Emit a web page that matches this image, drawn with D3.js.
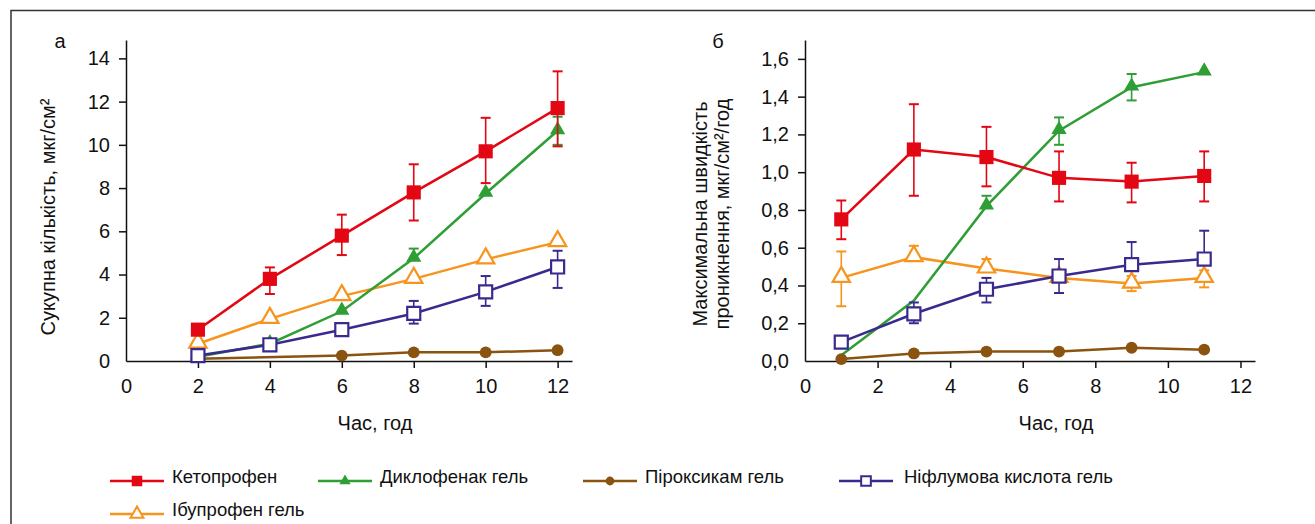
<!DOCTYPE html>
<html>
<head>
<meta charset="utf-8">
<script src="https://cdn.jsdelivr.net/npm/d3@7"></script>
<style>
    body { margin: 0; background: #fff; }
    svg { display: block; font-family: "Liberation Sans", Arial, sans-serif; }
    .axis path, .axis line { stroke: #111; stroke-width: 1.5; }
    .axis text { font-size: 20px; fill: #111; }
    .title { font-size: 20px; fill: #111; }
    .legend text { font-size: 18.5px; fill: #111; }
</style>
</head>
<body>
<svg id="chart" width="1315" height="524"></svg>
<script>
// --- data ---
const timesA = [2, 4, 6, 8, 10, 12]
const timesB = [1, 3, 5, 7, 9, 11]
const ticksX = [0, 2, 4, 6, 8, 10, 12]
const ticksYA = [0, 2, 4, 6, 8, 10, 12, 14]
const ticksYB = [0, 0.2, 0.4, 0.6, 0.8, 1.0, 1.2, 1.4, 1.6]

const seriesNames = ['Кетопрофен', 'Диклофенак гель', 'Піроксикам гель', 'Ніфлумова кислота гель', 'Ібупрофен гель']

// panel а: cumulative amount, mcg/cm2
const ketoA = [1.45, 3.8, 5.8, 7.8, 9.7, 11.7]
const ketoAHi = [null, 4.33, 6.77, 9.1, 11.25, 13.4]
const ketoALo = [null, 3.1, 4.9, 6.5, 8.23, 9.93]
const dicloA = [0.2, 0.8, 2.3, 4.75, 7.75, 10.65]
const dicloAHi = [null, null, null, 5.2, null, 11.3]
const dicloALo = [null, null, null, null, null, 10.0]
const piroxA = [0.1, null, 0.25, 0.4, 0.4, 0.5]
const piroxAMarks = [0, 0, 1, 1, 1, 1]
const niflA = [0.25, 0.75, 1.45, 2.2, 3.2, 4.35]
const niflAHi = [null, null, null, 2.78, 3.93, 5.1]
const niflALo = [null, null, null, 1.73, 2.55, 3.38]
const ibuA = [0.8, 1.95, 3.0, 3.8, 4.7, 5.5]

// panel б: max permeation rate, mcg/cm2/h
const ketoB = [0.75, 1.12, 1.08, 0.97, 0.95, 0.98]
const ketoBHi = [0.85, 1.36, 1.24, 1.11, 1.05, 1.11]
const ketoBLo = [0.645, 0.875, 0.925, 0.845, 0.84, 0.845]
const dicloB = [0.03, 0.32, 0.82, 1.22, 1.45, 1.53]
const dicloBHi = [null, null, 0.875, 1.29, 1.52, null]
const dicloBLo = [null, null, null, 1.145, 1.38, null]
const dicloBMarks = [0, 0, 1, 1, 1, 1]
const piroxB = [0.01, 0.04, 0.05, 0.05, 0.07, 0.06]
const niflB = [0.1, 0.25, 0.38, 0.45, 0.51, 0.54]
const niflBHi = [null, 0.31, 0.44, 0.54, 0.63, 0.69]
const niflBLo = [null, 0.2, 0.31, 0.36, null, null]
const ibuB = [0.44, 0.55, 0.49, 0.44, 0.41, 0.44]
const ibuBHi = [0.58, 0.61, 0.54, null, 0.45, 0.48]
const ibuBLo = [0.29, null, null, null, 0.37, 0.39]

const COLORS = {
    keto: '#e30613',
    diclo: '#2e9e35',
    pirox: '#8a5410',
    nifl: '#3b2a8e',
    ibu: '#f7941d'
}

const $svg = d3.select('#chart')
const commaFmt = d3.formatLocale({ decimal: ',', thousands: ' ', grouping: [3], currency: ['', ''] }).format('.1f')

// frame (cropped on right & bottom)
$svg.append('rect')
    .attr('x', 11).attr('y', 10.5)
    .attr('width', 1400).attr('height', 600)
    .attr('fill', 'none').attr('stroke', '#333').attr('stroke-width', 1.5)

function makeSeries(times, vals, hi, lo, marks) {
    return times.map((t, i) => ({
        t: t,
        v: vals[i],
        hi: hi ? hi[i] : null,
        lo: lo ? lo[i] : null,
        mark: marks ? marks[i] : 1
    })).filter(d => d.v != null)
}

function symbolFor(key, legend) {
    const k = legend ? 0.55 : 1
    if (key === 'keto') return d3.symbol(d3.symbolSquare, 200 * k)()
    if (key === 'diclo') return d3.symbol(d3.symbolTriangle, 100 * k)()
    if (key === 'pirox') return d3.symbol(d3.symbolCircle, 110 * k)()
    if (key === 'nifl') return d3.symbol(d3.symbolSquare, 170 * k)()
    return d3.symbol(d3.symbolTriangle, 130 * k)()
}
const hollow = key => key === 'nifl' || key === 'ibu'

function drawPanel(cfg) {
    const x = d3.scaleLinear().domain([0, 12.4]).range(cfg.xRange)
    const y = d3.scaleLinear().domain(cfg.yDomain).range([361, 40])
    const g = $svg.append('g')

    // axes
    const xAxis = g.append('g')
        .attr('class', 'axis')
        .attr('transform', `translate(0, ${y(0)})`)
        .call(d3.axisBottom(x).tickValues(ticksX).tickSize(7).tickSizeOuter(0).tickPadding(6))
    xAxis.selectAll('.tick').filter(d => d === 0).select('line').remove()
    xAxis.selectAll('.tick text').attr('dy', '0.95em')

    const yAxis = g.append('g')
        .attr('class', 'axis')
        .attr('transform', `translate(${x(0)}, 0)`)
        .call(d3.axisLeft(y).tickValues(cfg.yTicks).tickFormat(cfg.yFormat).tickSize(7).tickSizeOuter(0).tickPadding(9))
    yAxis.selectAll('.tick').filter(d => d === 0).select('line').remove()

    const line = d3.line().x(d => x(d.t)).y(d => y(d.v))

    cfg.series.forEach(s => {
        const sg = g.append('g')
        sg.append('path')
            .datum(s.data)
            .attr('d', line)
            .attr('fill', 'none')
            .attr('stroke', COLORS[s.key])
            .attr('stroke-width', 2.5)

        // error bars
        const eb = s.data.filter(d => d.hi != null || d.lo != null)
        eb.forEach(d => {
            const top = d.hi != null ? d.hi : d.v
            const bot = d.lo != null ? d.lo : d.v
            sg.append('line')
                .attr('x1', x(d.t)).attr('x2', x(d.t))
                .attr('y1', y(top)).attr('y2', y(bot))
                .attr('stroke', COLORS[s.key]).attr('stroke-width', 1.6)
            ;[d.hi, d.lo].filter(v => v != null).forEach(v => {
                sg.append('line')
                    .attr('x1', x(d.t) - 5).attr('x2', x(d.t) + 5)
                    .attr('y1', y(v)).attr('y2', y(v))
                    .attr('stroke', COLORS[s.key]).attr('stroke-width', 2)
            })
        })

        sg.selectAll('path.mark')
            .data(s.data.filter(d => d.mark))
            .join('path')
            .attr('class', 'mark')
            .attr('transform', d => `translate(${x(d.t)}, ${y(d.v) + (s.key === 'diclo' || s.key === 'ibu' ? -1 : 0)})`)
            .attr('d', symbolFor(s.key))
            .attr('fill', hollow(s.key) ? '#fff' : COLORS[s.key])
            .attr('stroke', hollow(s.key) ? COLORS[s.key] : 'none')
            .attr('stroke-width', 2.2)
    })

    // labels
    g.append('text')
        .attr('class', 'title')
        .attr('x', cfg.panelX).attr('y', 48)
        .attr('text-anchor', 'middle')
        .text(cfg.panel)

    g.append('text')
        .attr('class', 'title')
        .attr('x', (x(0) + x(12.4)) / 2 + 26).attr('y', 430)
        .attr('text-anchor', 'middle')
        .text('Час, год')

    cfg.yTitle.forEach((t, i) => {
        g.append('text')
            .attr('class', 'title')
            .attr('transform', `translate(${cfg.yTitleX[i]}, ${cfg.yTitleY}) rotate(-90)`)
            .attr('text-anchor', 'middle')
            .text(t)
    })
}

drawPanel({
    xRange: [126, 572],
    yDomain: [0, 14.85],
    yTicks: ticksYA,
    yFormat: d3.format('d'),
    panel: 'а',
    panelX: 60,
    yTitle: ['Сукупна кількість, мкг/см²'],
    yTitleX: [55],
    yTitleY: 217,
    series: [
        { key: 'ibu', data: makeSeries(timesA, ibuA) },
        { key: 'diclo', data: makeSeries(timesA, dicloA, dicloAHi, dicloALo) },
        { key: 'pirox', data: makeSeries(timesA, piroxA, null, null, piroxAMarks) },
        { key: 'nifl', data: makeSeries(timesA, niflA, niflAHi, niflALo) },
        { key: 'keto', data: makeSeries(timesA, ketoA, ketoAHi, ketoALo) }
    ]
})

drawPanel({
    xRange: [805, 1255],
    yDomain: [0, 1.7],
    yTicks: ticksYB,
    yFormat: commaFmt,
    panel: 'б',
    panelX: 718,
    yTitle: ['Максимальна швидкість', 'проникнення, мкг/см²/год'],
    yTitleX: [707, 729],
    yTitleY: 214,
    series: [
        { key: 'ibu', data: makeSeries(timesB, ibuB, ibuBHi, ibuBLo) },
        { key: 'diclo', data: makeSeries(timesB, dicloB, dicloBHi, dicloBLo, dicloBMarks) },
        { key: 'pirox', data: makeSeries(timesB, piroxB) },
        { key: 'nifl', data: makeSeries(timesB, niflB, niflBHi, niflBLo) },
        { key: 'keto', data: makeSeries(timesB, ketoB, ketoBHi, ketoBLo) }
    ]
})

// legend
const legendKeys = ['keto', 'diclo', 'pirox', 'nifl', 'ibu']
const legendPos = [[110, 481], [318, 481], [583, 481], [839, 481], [110, 514]]
const legend = $svg.append('g').attr('class', 'legend')
legendKeys.forEach((k, i) => {
    const [lx, ly] = legendPos[i]
    const item = legend.append('g').attr('transform', `translate(${lx}, ${ly})`)
    item.append('line')
        .attr('x1', 0).attr('x2', 54)
        .attr('stroke', COLORS[k]).attr('stroke-width', 2.5)
    item.append('path')
        .attr('transform', `translate(27, 0)`)
        .attr('d', symbolFor(k, true))
        .attr('fill', hollow(k) ? '#fff' : COLORS[k])
        .attr('stroke', hollow(k) ? COLORS[k] : 'none')
        .attr('stroke-width', 2)
    item.append('text')
        .attr('x', k === 'nifl' ? 65 : 62).attr('y', 0)
        .attr('dy', '0.1em')
        .text(seriesNames[i])
})
</script>
</body>
</html>
